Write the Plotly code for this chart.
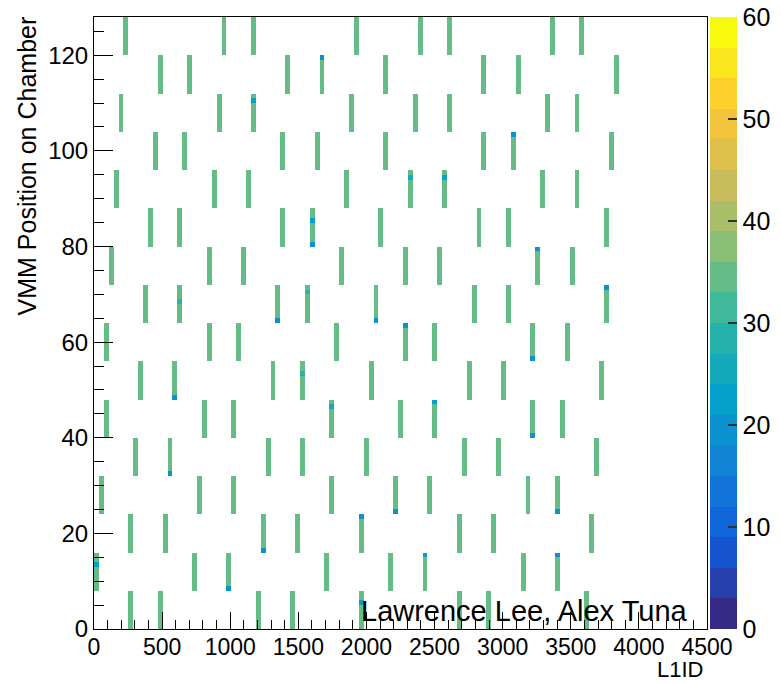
import numpy as np
import plotly.graph_objects as go

# ---------------- data ----------------
vmm_group_start = [120, 112, 104, 96, 88, 80, 72, 64, 56, 48, 40, 32, 24, 16, 8, 0]
bar_l1id = [
    [227, 948, 1187, 1909, 2389, 2626, 3352, 3590],   # VMM 120-127
    [469, 708, 1430, 1670, 2150, 2870, 3110, 3833],   # VMM 112-119
    [198, 920, 1160, 1880, 2362, 2600, 3322, 3563],   # VMM 104-111
    [437, 676, 1401, 1640, 2124, 2846, 3085, 3810],   # VMM 96-103
    [169, 888, 1130, 1853, 2333, 2572, 3295, 3536],   # VMM 88-95
    [408, 647, 1369, 1608, 2094, 2817, 3056, 3778],   # VMM 80-87
    [136, 859, 1098, 1821, 2301, 2543, 3265, 3504],   # VMM 72-79
    [379, 618, 1340, 1582, 2062, 2785, 3024, 3749],   # VMM 64-71
    [105, 830, 1069, 1794, 2275, 2516, 3236, 3478],   # VMM 56-63
    [344, 586, 1308, 1547, 2030, 2753, 2992, 3717],   # VMM 48-55
    [73, 801, 1040, 1763, 2246, 2485, 3204, 3446],    # VMM 40-47
    [315, 556, 1279, 1521, 2001, 2724, 2963, 3688],   # VMM 32-39
    [44, 769, 1008, 1730, 2214, 2453, 3178, 3417],    # VMM 24-31
    [285, 527, 1250, 1492, 1969, 2695, 2936, 3656],   # VMM 16-23
    [15, 734, 973, 1698, 2181, 2420, 3146, 3385],     # VMM 8-15
    [256, 498, 1221, 1462, 1946, 2668, 2907, 3630],   # VMM 0-7
]
bar_count = 34
vmms_per_group = 8

# cells with fewer entries (L1ID, VMM position, count)
low_l1id = [1670, 1160, 1608, 1608, 618, 1582, 1340, 2062, 3085, 2333, 2572, 3265, 3749, 2275,
            586, 1547, 1763, 556, 1969, 2214, 1250, 973, 15, 1946, 3236, 2485, 3204, 3417, 2420, 3385]
low_vmm = [119, 110, 85, 80, 68, 70, 64, 64, 103, 94, 94, 79, 71, 63,
           48, 53, 46, 32, 23, 24, 16, 8, 13, 5, 56, 47, 40, 24, 15, 15]
low_count = [20, 22, 22, 20, 28, 28, 20, 20, 20, 26, 22, 18, 20, 20,
             20, 27, 24, 20, 20, 20, 20, 18, 22, 22, 20, 22, 18, 20, 22, 20]

x_ticks = [0, 500, 1000, 1500, 2000, 2500, 3000, 3500, 4000, 4500]
y_ticks = [0, 20, 40, 60, 80, 100, 120]
cb_ticks = [0, 10, 20, 30, 40, 50, 60]

# ---------------- histogram ----------------
x_bin = 36.0
n_x = int(4500 / x_bin)
n_y = 128
z = np.full((n_y, n_x), np.nan)
for g, row in zip(vmm_group_start, bar_l1id):
    for l1 in row:
        ix = int(l1 // x_bin)
        for v in range(g, g + vmms_per_group):
            z[v, ix] = bar_count
for l1, v, c in zip(low_l1id, low_vmm, low_count):
    z[v, int(l1 // x_bin)] = c

# ROOT kBird palette, 20 discrete contour levels
stops = [0.0, 0.125, 0.25, 0.375, 0.5, 0.625, 0.75, 0.875, 1.0]
red = [0.2082, 0.0592, 0.0780, 0.0232, 0.1802, 0.5301, 0.8186, 0.9956, 0.9764]
green = [0.1664, 0.3599, 0.5041, 0.6419, 0.7178, 0.7492, 0.7328, 0.7862, 0.9832]
blue = [0.5293, 0.8684, 0.8385, 0.7914, 0.6425, 0.4662, 0.3499, 0.1968, 0.0539]


def bird(t):
    r = np.interp(t, stops, red)
    g = np.interp(t, stops, green)
    b = np.interp(t, stops, blue)
    return f"rgb({int(r*255)},{int(g*255)},{int(b*255)})"


n_lev = 20
cscale = []
for i in range(n_lev):
    col = bird(i / (n_lev - 1))
    cscale.append([i / n_lev, col])
    cscale.append([(i + 1) / n_lev, col])

FONT = "Liberation Sans, Arial, Helvetica, sans-serif"

fig = go.Figure(go.Heatmap(
    z=z,
    x0=x_bin / 2, dx=x_bin,
    y0=0.5, dy=1,
    zmin=0, zmax=60,
    colorscale=cscale,
    hoverongaps=False,
    colorbar=dict(
        x=1.0049, xanchor="left", xpad=0,
        y=0.5, yanchor="middle", len=1, lenmode="fraction", ypad=0,
        thickness=27,
        tickvals=cb_ticks,
        ticks="inside", ticklen=9, tickwidth=1.5, tickcolor="#333333",
        tickfont=dict(family=FONT, size=25, color="black"),
        outlinewidth=0,
    ),
))

fig.update_xaxes(
    range=[0, 4500], tickvals=x_ticks, ticks="inside", ticklen=17, tickwidth=1,
    tickcolor="black", showline=True, linecolor="black", linewidth=1, mirror=True,
    showgrid=False, zeroline=False, automargin=False, ticklabelstandoff=-3,
    tickfont=dict(family=FONT, size=23, color="black"),
    minor=dict(dtick=100, ticks="inside", ticklen=9, tickcolor="black", showgrid=False),
)
fig.update_yaxes(
    range=[0, 128], tickvals=y_ticks, ticks="inside", ticklen=19, tickwidth=1,
    tickcolor="black", showline=True, linecolor="black", linewidth=1, mirror=True,
    showgrid=False, zeroline=False, automargin=False,
    tickfont=dict(family=FONT, size=24, color="black"),
    minor=dict(dtick=5, ticks="inside", ticklen=10, tickcolor="black", showgrid=False),
)

fig.update_layout(
    width=781, height=684,
    margin=dict(l=94, r=74, t=17, b=55, autoexpand=False),
    plot_bgcolor="white", paper_bgcolor="white",
    font=dict(family=FONT, color="black"),
    annotations=[
        dict(text="VMM Position on Chamber", xref="paper", yref="paper",
             x=-0.1093, y=1.005, xanchor="center", yanchor="top", textangle=-90,
             showarrow=False, font=dict(size=25)),
        dict(text="L1ID", xref="paper", yref="paper",
             x=0.997, y=-0.0895, xanchor="right", yanchor="bottom",
             showarrow=False, font=dict(size=22)),
        dict(text="Lawrence Lee, Alex Tuna", xref="paper", yref="paper",
             x=0.432, y=0.0294, xanchor="left", yanchor="middle",
             showarrow=False, font=dict(size=29)),
    ],
)

fig.write_html(
    "out.html",
    config={"displayModeBar": False},
    post_script="document.body.style.margin='0px';document.body.style.padding='0px';",
)
